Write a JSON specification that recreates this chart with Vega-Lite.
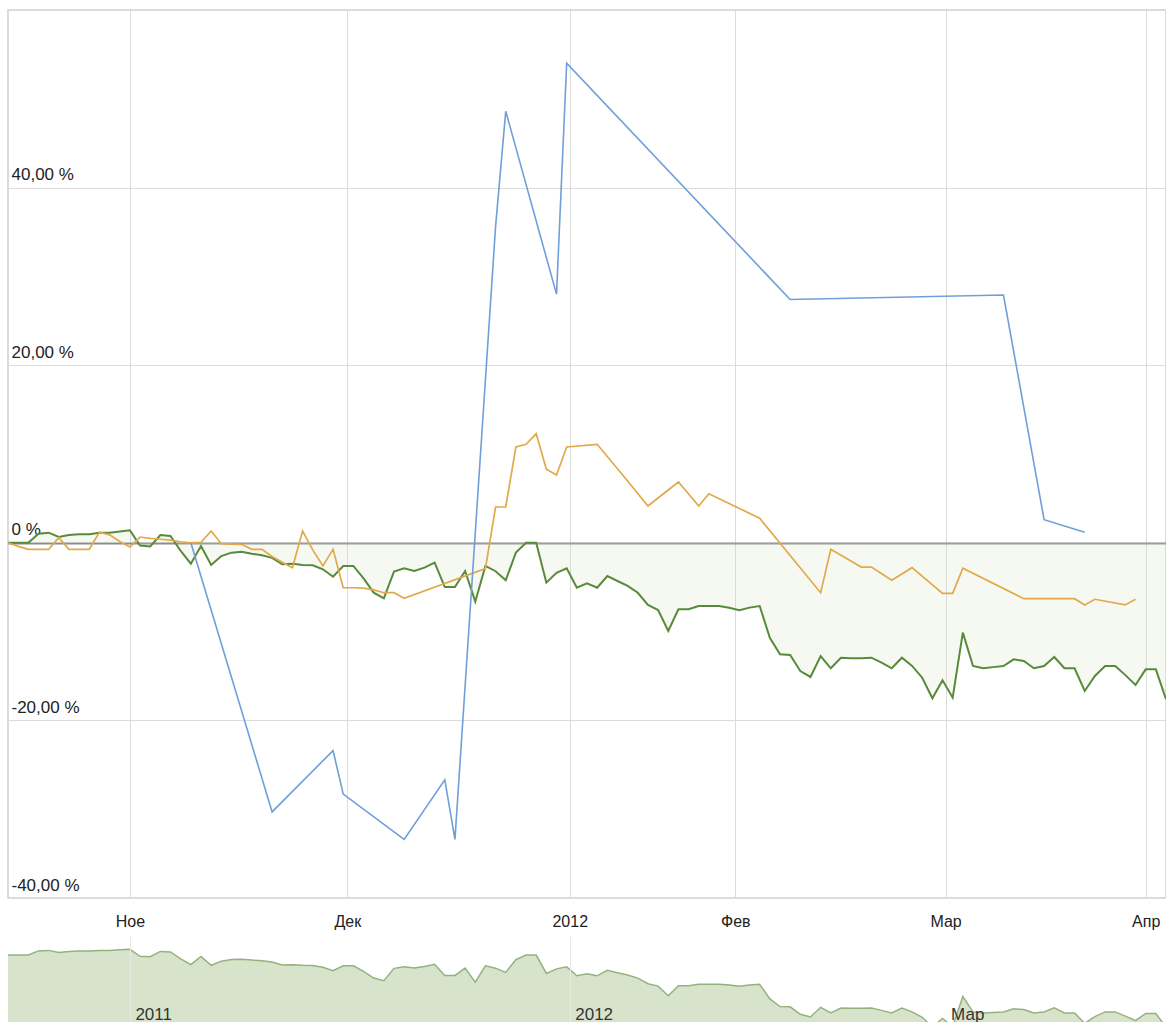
{
  "$schema": "https://vega.github.io/schema/vega-lite/v6.json",
  "background": "white",
  "padding": {"left": 3, "top": 9, "right": 0, "bottom": 0},
  "bounds": "flush",
  "spacing": 38,
  "config": {"font": "Liberation Sans", "axis": {"labelFont": "Liberation Sans", "title": null}},
  "datasets": {
    "green": [
      {"t":0,"v":0},{"t":1,"v":0},{"t":2,"v":0},{"t":3,"v":1.02},{"t":4,"v":1.14},{"t":5,"v":0.65},{"t":6,"v":0.88},{"t":7,"v":0.96},{"t":8,"v":0.96},{"t":9,"v":1.14},
      {"t":10,"v":1.14},{"t":11,"v":1.27},{"t":12,"v":1.41},{"t":13,"v":-0.3},{"t":14,"v":-0.42},{"t":15,"v":0.88},{"t":16,"v":0.77},{"t":17,"v":-0.92},{"t":18,"v":-2.35},{"t":19,"v":-0.36},
      {"t":20,"v":-2.5},{"t":21,"v":-1.49},{"t":22,"v":-1.11},{"t":23,"v":-1.0},{"t":24,"v":-1.23},{"t":25,"v":-1.41},{"t":26,"v":-1.7},{"t":27,"v":-2.42},{"t":28,"v":-2.35},{"t":29,"v":-2.5},
      {"t":30,"v":-2.53},{"t":31,"v":-2.98},{"t":32,"v":-3.82},{"t":33,"v":-2.61},{"t":34,"v":-2.61},{"t":35,"v":-4.0},{"t":36,"v":-5.61},{"t":37,"v":-6.25},{"t":38,"v":-3.25},{"t":39,"v":-2.87},
      {"t":40,"v":-3.18},{"t":41,"v":-2.8},{"t":42,"v":-2.24},{"t":43,"v":-4.98},{"t":44,"v":-4.98},{"t":45,"v":-3.18},{"t":46,"v":-6.63},{"t":47,"v":-2.61},{"t":48,"v":-3.2},{"t":49,"v":-4.22},
      {"t":50,"v":-1.11},{"t":51,"v":0},{"t":52,"v":0},{"t":53,"v":-4.49},{"t":54,"v":-3.37},{"t":55,"v":-2.87},{"t":56,"v":-5.06},{"t":57,"v":-4.56},{"t":58,"v":-5.06},{"t":59,"v":-3.74},
      {"t":60,"v":-4.3},{"t":61,"v":-4.86},{"t":62,"v":-5.63},{"t":63,"v":-7.0},{"t":64,"v":-7.57},{"t":65,"v":-9.93},{"t":66,"v":-7.49},{"t":67,"v":-7.49},{"t":68,"v":-7.12},{"t":69,"v":-7.12},
      {"t":70,"v":-7.12},{"t":71,"v":-7.31},{"t":72,"v":-7.6},{"t":73,"v":-7.3},{"t":74,"v":-7.12},{"t":75,"v":-10.69},{"t":76,"v":-12.56},{"t":77,"v":-12.64},{"t":78,"v":-14.44},{"t":79,"v":-15.11},
      {"t":80,"v":-12.75},{"t":81,"v":-14.13},{"t":82,"v":-12.94},{"t":83,"v":-13.0},{"t":84,"v":-13.0},{"t":85,"v":-12.94},{"t":86,"v":-13.5},{"t":87,"v":-14.13},{"t":88,"v":-12.94},{"t":89,"v":-13.87},
      {"t":90,"v":-15.19},{"t":91,"v":-17.51},{"t":92,"v":-15.48},{"t":93,"v":-17.44},{"t":94,"v":-10.12},{"t":95,"v":-13.87},{"t":96,"v":-14.13},{"t":97,"v":-14.0},{"t":98,"v":-13.87},{"t":99,"v":-13.12},
      {"t":100,"v":-13.31},{"t":101,"v":-14.13},{"t":102,"v":-13.87},{"t":103,"v":-12.86},{"t":104,"v":-14.13},{"t":105,"v":-14.13},{"t":106,"v":-16.69},{"t":107,"v":-15.0},{"t":108,"v":-13.87},{"t":109,"v":-13.87},
      {"t":110,"v":-14.9},{"t":111,"v":-16.01},{"t":112,"v":-14.25},{"t":113,"v":-14.25},{"t":114,"v":-17.62}
    ],
    "orange": [
      {"t":0,"v":0},{"t":1,"v":-0.4},{"t":2,"v":-0.73},{"t":3,"v":-0.73},{"t":4,"v":-0.73},{"t":5,"v":0.58},{"t":6,"v":-0.73},{"t":7,"v":-0.73},{"t":8,"v":-0.73},{"t":9,"v":1.2},
      {"t":10,"v":0.9},{"t":11,"v":0.15},{"t":12,"v":-0.47},{"t":13,"v":0.65},{"t":14,"v":0.5},{"t":15,"v":0.4},{"t":16,"v":0.3},{"t":17,"v":0.12},{"t":18,"v":0.0},{"t":19,"v":0.05},
      {"t":20,"v":1.33},{"t":21,"v":-0.1},{"t":22,"v":-0.15},{"t":23,"v":-0.17},{"t":24,"v":-0.73},{"t":25,"v":-0.73},{"t":26,"v":-1.55},{"t":27,"v":-2.2},{"t":28,"v":-2.8},{"t":29,"v":1.33},
      {"t":30,"v":-0.8},{"t":31,"v":-2.61},{"t":32,"v":-0.73},{"t":33,"v":-5.06},{"t":34,"v":-5.06},{"t":35,"v":-5.1},{"t":36,"v":-5.3},{"t":37,"v":-5.62},{"t":38,"v":-5.62},{"t":39,"v":-6.25},
      {"t":47,"v":-2.9},{"t":48,"v":4.03},{"t":49,"v":4.03},{"t":50,"v":10.79},{"t":51,"v":11.09},{"t":52,"v":12.29},{"t":53,"v":8.28},{"t":54,"v":7.64},{"t":55,"v":10.79},{"t":58,"v":11.09},
      {"t":61,"v":6.96},{"t":63,"v":4.14},{"t":66,"v":6.85},{"t":68,"v":4.14},{"t":69,"v":5.53},{"t":74,"v":2.76},{"t":80,"v":-5.62},{"t":81,"v":-0.73},{"t":84,"v":-2.73},{"t":85,"v":-2.73},
      {"t":87,"v":-4.22},{"t":89,"v":-2.8},{"t":92,"v":-5.69},{"t":93,"v":-5.69},{"t":94,"v":-2.87},{"t":100,"v":-6.29},{"t":105,"v":-6.29},{"t":106,"v":-7.0},{"t":107,"v":-6.36},{"t":110,"v":-7.0},
      {"t":111,"v":-6.36}
    ],
    "blue": [
      {"t":18,"v":0},{"t":26,"v":-30.3},{"t":32,"v":-23.4},{"t":33,"v":-28.3},{"t":39,"v":-33.4},{"t":43,"v":-26.7},{"t":44,"v":-33.4},{"t":48,"v":35.6},{"t":49,"v":48.6},{"t":54,"v":28.0},
      {"t":55,"v":54.0},{"t":77,"v":27.4},{"t":98,"v":27.9},{"t":102,"v":2.6},{"t":106,"v":1.2}
    ]
  },
  "vconcat": [
    {
      "width": 1158,
      "height": 888,
      "view": {"stroke": "#cfcfcf", "strokeWidth": 1.5},
      "layer": [
        {
          "data": {"name": "green"},
          "mark": {"type": "area", "color": "#d5e5c5", "opacity": 0.22},
          "encoding": {
            "x": {"field": "t", "type": "quantitative",
              "scale": {"domain": [0, 114], "nice": false, "zero": false},
              "axis": {"values": [12, 33.4, 55.3, 71.6, 92.3, 112], "domain": false, "ticks": false, "tickSize": 0,
                "labelPadding": 15, "labelFontSize": 16, "labelColor": "#222", "labelFlush": false, "labelOverlap": false,
                "gridColor": "#dcdcdc", "gridWidth": 1,
                "labelExpr": "datum.value < 20 ? 'Ное' : datum.value < 40 ? 'Дек' : datum.value < 60 ? '2012' : datum.value < 80 ? 'Фев' : datum.value < 100 ? 'Мар' : 'Апр'"}},
            "y": {"field": "v", "type": "quantitative",
              "scale": {"domain": [-40, 60], "nice": false, "zero": false},
              "axis": {"values": [-40, -20, 0, 20, 40], "domain": false, "ticks": false, "tickSize": 0,
                "labelAlign": "left", "labelPadding": -3, "labelBaseline": "alphabetic", "labelOffset": -8,
                "labelFontSize": 17, "labelColor": "#222", "labelOverlap": false,
                "gridColor": {"condition": {"test": "datum.value === 0", "value": "#8c8c8c"}, "value": "#dcdcdc"},
                "gridWidth": {"condition": {"test": "datum.value === 0", "value": 2}, "value": 1},
                "labelExpr": "datum.value === 0 ? '0 %' : datum.value + ',00 %'"}},
            "y2": {"datum": 0}
          }
        },
        {
          "data": {"name": "green"},
          "mark": {"type": "line", "color": "#598a3a", "strokeWidth": 2},
          "encoding": {"x": {"field": "t", "type": "quantitative"}, "y": {"field": "v", "type": "quantitative"}}
        },
        {
          "data": {"name": "orange"},
          "mark": {"type": "line", "color": "#e2a94a", "strokeWidth": 1.7},
          "encoding": {"x": {"field": "t", "type": "quantitative"}, "y": {"field": "v", "type": "quantitative"}}
        },
        {
          "data": {"name": "blue"},
          "mark": {"type": "line", "color": "#6f9fda", "strokeWidth": 1.6},
          "encoding": {"x": {"field": "t", "type": "quantitative"}, "y": {"field": "v", "type": "quantitative"}}
        }
      ]
    },
    {
      "width": 1158,
      "height": 100,
      "view": {"stroke": null},
      "data": {"name": "green"},
      "layer": [
        {
          "mark": {"type": "area", "color": "#d8e3cc", "opacity": 1},
          "encoding": {
            "x": {"field": "t", "type": "quantitative",
              "scale": {"domain": [0, 114], "nice": false, "zero": false},
              "axis": {"values": [12, 55.3, 92.3], "domain": false, "ticks": false, "tickSize": 0, "zindex": 1,
                "labelAlign": "left", "labelBaseline": "top", "labelPadding": -30, "labelOffset": 5,
                "labelFontSize": 17, "labelColor": "#333", "labelFlush": false, "labelOverlap": false,
                "gridColor": "#e6ebe1",
                "gridOpacity": {"condition": {"test": "datum.value > 80", "value": 0}, "value": 1},
                "labelExpr": "datum.value < 30 ? '2011' : datum.value < 70 ? '2012' : 'Мар'"}},
            "y": {"field": "v", "type": "quantitative", "scale": {"domain": [-19.75, 4.65], "nice": false, "zero": false}, "axis": null},
            "y2": {"datum": -19.75}
          }
        },
        {
          "mark": {"type": "line", "color": "#94b27e", "strokeWidth": 1.5},
          "encoding": {"x": {"field": "t", "type": "quantitative"}, "y": {"field": "v", "type": "quantitative"}}
        }
      ]
    }
  ]
}
